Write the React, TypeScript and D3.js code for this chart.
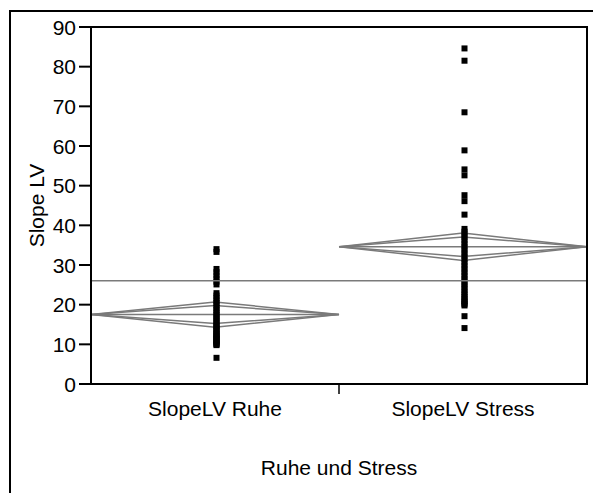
import React from "react";
import * as d3 from "d3";

// Groups on the x axis
const categories = ["SlopeLV Ruhe", "SlopeLV Stress"];

// Individual observations per group (Slope LV)
const ruheValues = [
  34.0, 33.3, 29.0, 28.2, 27.4, 26.6, 25.8, 25.1,
  22.9, 22.3, 21.6, 21.0, 20.4, 19.8, 19.2, 18.6, 18.0, 17.5, 17.0, 16.5,
  16.0, 15.5, 15.0, 14.6, 14.2, 13.8, 13.4, 13.0, 12.6, 12.3, 12.0, 11.7,
  11.4, 11.1, 10.8, 10.5, 10.2, 10.0, 9.8, 6.6,
];
const stressValues = [
  84.6, 81.5, 68.5, 58.9, 54.1, 52.6, 47.6, 46.1, 42.7,
  39.1, 38.4, 37.7, 37.0, 36.2, 35.4, 34.6, 33.8, 33.0, 32.2, 31.4, 30.6,
  29.8, 29.0, 28.2, 27.4, 26.6, 25.9, 25.2, 24.5, 23.8, 23.1, 22.5, 21.9,
  21.4, 20.9, 20.5, 20.1, 19.8, 17.1, 14.1,
];

// Group means and 95% confidence half-widths for the means diamonds
const groupMeans = [17.5, 34.6];
const groupCIHalf = [3.2, 3.45];
const grandMean = 26.0;

const yTicks = [0, 10, 20, 30, 40, 50, 60, 70, 80, 90];

const W = 593;
const H = 493;
const plot = { left: 91, right: 587, top: 27, bottom: 384 };
const FONT = "'Liberation Sans', Arial, Helvetica, sans-serif";
const GRAY = "#7a7a7a";

export default function App() {
  const x = d3
    .scaleBand<string>()
    .domain(categories)
    .range([plot.left, plot.right])
    .padding(0);
  const y = d3.scaleLinear().domain([0, 90]).range([plot.bottom, plot.top]);

  const groups = [ruheValues, stressValues];
  const sq = 6;

  const diamondPath = (i: number, half: number) => {
    const x0 = x(categories[i])!;
    const x1 = x0 + x.bandwidth();
    const xc = x0 + x.bandwidth() / 2;
    const m = groupMeans[i];
    const line = d3.line<[number, number]>();
    return line([
      [x0, y(m)],
      [xc, y(m + half)],
      [x1, y(m)],
      [xc, y(m - half)],
      [x0, y(m)],
    ])!;
  };

  return (
    <svg
      width={W}
      height={H}
      style={{ position: "absolute", left: 0, top: 0, background: "#fff" }}
      fontFamily={FONT}
    >
      {/* outer frame */}
      <path d={`M10,${H} V11 H${W}`} fill="none" stroke="#000" strokeWidth={2} />

      {/* means diamonds */}
      {categories.map((c, i) => {
        const x0 = x(c)!;
        return (
          <g key={c} fill="none" stroke={GRAY} strokeWidth={1.5}>
            <path d={diamondPath(i, groupCIHalf[i])} />
            <path d={diamondPath(i, groupCIHalf[i] * Math.SQRT1_2)} />
            <line x1={x0} x2={x0 + x.bandwidth()} y1={y(groupMeans[i])} y2={y(groupMeans[i])} />
          </g>
        );
      })}

      {/* observations */}
      {groups.map((vals, i) => {
        const xc = x(categories[i])! + x.bandwidth() / 2 + 1.5;
        return (
          <g key={i} fill="#000">
            {vals.map((v, j) => (
              <rect key={j} x={xc - sq / 2} y={y(v) - sq / 2} width={sq} height={sq} />
            ))}
          </g>
        );
      })}

      {/* grand mean */}
      <line
        x1={plot.left}
        x2={plot.right}
        y1={y(grandMean)}
        y2={y(grandMean)}
        stroke={GRAY}
        strokeWidth={1.5}
      />

      {/* plot frame */}
      <rect
        x={plot.left}
        y={plot.top}
        width={plot.right - plot.left}
        height={plot.bottom - plot.top}
        fill="none"
        stroke="#000"
        strokeWidth={2}
      />

      {/* y axis */}
      {yTicks.map((t) => (
        <g key={t}>
          <line x1={plot.left - 12} x2={plot.left} y1={y(t)} y2={y(t)} stroke="#000" strokeWidth={2} />
          <text
            x={plot.left - 15}
            y={y(t)}
            dy="0.36em"
            textAnchor="end"
            fontSize={21}
            fill="#000"
          >
            {t}
          </text>
        </g>
      ))}
      <text
        transform={`translate(44, ${(plot.top + plot.bottom) / 2}) rotate(-90)`}
        textAnchor="middle"
        fontSize={21}
        fill="#000"
      >
        Slope LV
      </text>

      {/* x axis */}
      <line
        x1={x(categories[1])!}
        x2={x(categories[1])!}
        y1={plot.bottom}
        y2={plot.bottom + 10}
        stroke="#000"
        strokeWidth={1.5}
      />
      {categories.map((c) => (
        <text
          key={c}
          x={x(c)! + x.bandwidth() / 2}
          y={416}
          textAnchor="middle"
          fontSize={21}
          fill="#000"
        >
          {c}
        </text>
      ))}
      <text
        x={(plot.left + plot.right) / 2}
        y={475}
        textAnchor="middle"
        fontSize={21}
        fill="#000"
      >
        Ruhe und Stress
      </text>
    </svg>
  );
}
